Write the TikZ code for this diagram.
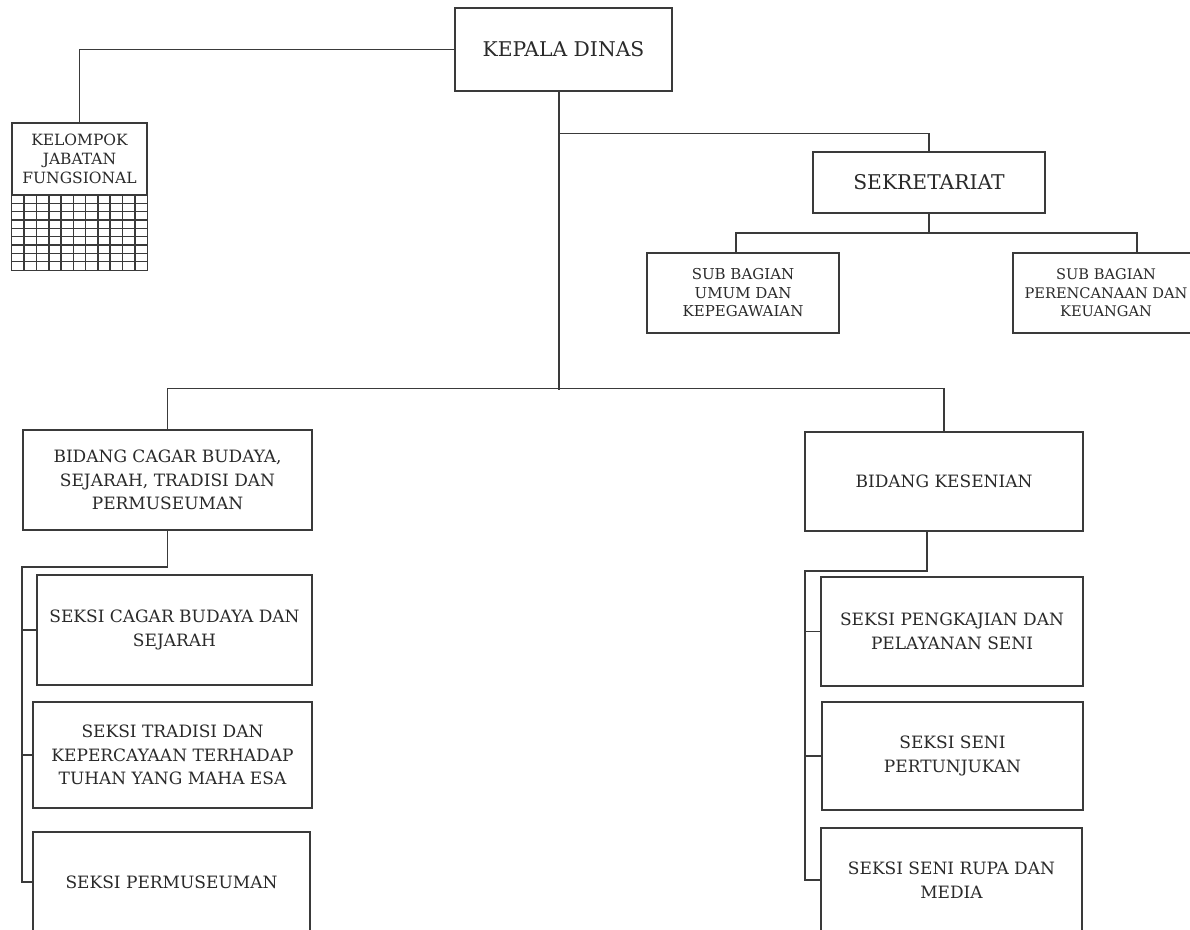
\documentclass[tikz,border=0pt]{standalone}
\usepackage{fontspec}
\setmainfont{DejaVu Serif}
\usetikzlibrary{calc}
\definecolor{ink}{HTML}{3A3A3A}
\definecolor{txt}{HTML}{2A2A2A}
\tikzset{
  box/.style={draw=ink, line width=1.2pt, rectangle, align=center, inner sep=0pt, text=txt, anchor=center},
  fbig/.style={font=\fontsize{20.3}{24}\selectfont},
  fmid/.style={font=\fontsize{17}{23.5}\selectfont},
  fsub/.style={font=\fontsize{15}{18.5}\selectfont},
  fkjf/.style={font=\fontsize{15.5}{19}\selectfont},
  link/.style={draw=ink, line width=1.2pt},
  gridline/.style={draw=ink, line width=1.6pt},
}
\begin{document}
\begin{tikzpicture}[x=1pt, y=-1pt]
\useasboundingbox (0,0) rectangle (1190,929);
\clip (0,0) rectangle (1190,929);
\fill[white] (0,0) rectangle (1190,929);

% top level
\node[box, fbig, minimum width=217pt, minimum height=83pt] (kd) at (563.5,49.5) {KEPALA DINAS};
\node[box, fkjf, minimum width=135pt, minimum height=72pt] (kjf) at (79.5,159) {KELOMPOK\\JABATAN\\FUNGSIONAL};
\node[box, fbig, minimum width=232pt, minimum height=61pt] (sek) at (929,182.5) {SEKRETARIAT};
\node[box, fsub, minimum width=192pt, minimum height=80pt] (sbu) at (743,293) {SUB BAGIAN\\UMUM DAN\\KEPEGAWAIAN};
\node[box, fsub, font=\fontsize{14.6}{18.5}\selectfont, minimum width=186pt, minimum height=80pt] (sbp) at (1106,293) {SUB BAGIAN\\PERENCANAAN DAN\\KEUANGAN};

% bidang
\node[box, fmid, minimum width=289pt, minimum height=100pt] (bcb) at (167.5,480) {BIDANG CAGAR BUDAYA,\\SEJARAH, TRADISI DAN\\PERMUSEUMAN};
\node[box, fmid, minimum width=278pt, minimum height=99pt] (bk) at (944,481.5) {BIDANG KESENIAN};

% seksi left
\node[box, fmid, minimum width=275pt, minimum height=110pt] (s1) at (174.5,630) {SEKSI CAGAR BUDAYA DAN\\SEJARAH};
\node[box, fmid, minimum width=279pt, minimum height=106pt] (s2) at (172.5,755) {SEKSI TRADISI DAN\\KEPERCAYAAN TERHADAP\\TUHAN YANG MAHA ESA};
\node[box, fmid, minimum width=277pt, minimum height=100pt] (s3) at (171.5,882) {SEKSI PERMUSEUMAN};

% seksi right
\node[box, fmid, minimum width=262pt, minimum height=109pt] (k1) at (952,631.5) {SEKSI PENGKAJIAN DAN\\PELAYANAN SENI};
\node[box, fmid, minimum width=261pt, minimum height=108pt] (k2) at (952.5,756) {SEKSI SENI\\PERTUNJUKAN};
\node[box, fmid, minimum width=261pt, minimum height=104pt] (k3) at (951.5,880) {SEKSI SENI RUPA DAN\\MEDIA};

% grid under kelompok jabatan fungsional
\draw[link] (kjf.south west) rectangle ($(kjf.south east)+(0,75)$);
\foreach \i in {1,...,10} \draw[gridline] ({12+\i*135/11},195) -- ({12+\i*135/11},270);
\foreach \j in {1,...,8} \draw[gridline] (12,{195+\j*75/9}) -- (147,{195+\j*75/9});

% connectors
\coordinate (trunktop) at ($(kd.south)+(-4.5,0)$);
\coordinate (trunk) at ($(trunktop)+(0,298)$);
\coordinate (jsek) at ($(trunktop)+(0,42)$);
\draw[link] (kd.west) -| (kjf.north);
\draw[link] (trunktop) -- (trunk);
\draw[link] (jsek) -| (sek.north);
\coordinate (sbuj) at ($(sbu.north)+(-7,0)$);
\coordinate (sbpj) at ($(sbp.north)+(31,0)$);
\draw[link] (sek.south) -- (sek.south |- 0,233);
\draw[link] (sbuj) |- (0,233 -| sbpj) -- (sbpj);
\draw[link] (bcb.north) -- ++(0,-41) -| (bk.north);

% left column spine
\coordinate (lspine) at (22,567);
\draw[link] (bcb.south) |- (lspine) -- (lspine |- s3.west) -- (s3.west);
\draw[link] (s1.west) -- (s1.west -| lspine);
\draw[link] (s2.west) -- (s2.west -| lspine);

% right column spine
\coordinate (bkj) at ($(bk.south)+(-17,0)$);
\coordinate (rspine) at (805,571);
\draw[link] (bkj) |- (rspine) -- (rspine |- k3.west) -- (k3.west);
\draw[link] (k1.west) -- (k1.west -| rspine);
\draw[link] (k2.west) -- (k2.west -| rspine);
\end{tikzpicture}
\end{document}
